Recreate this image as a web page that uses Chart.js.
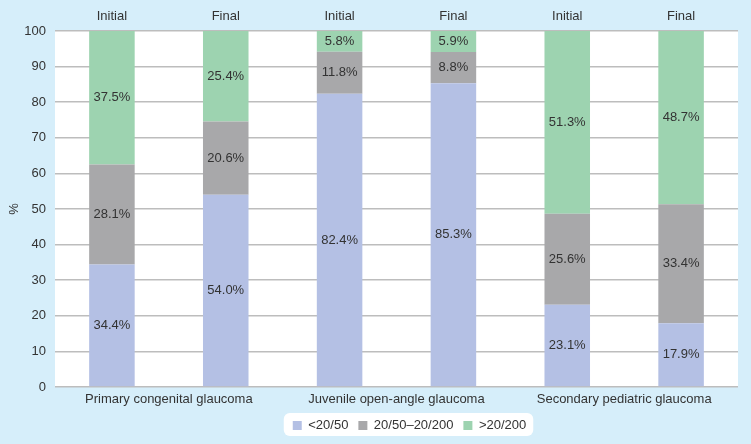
<!DOCTYPE html>
<html>
<head>
<meta charset="utf-8">
<script src="https://cdn.jsdelivr.net/npm/chart.js@4/dist/chart.umd.min.js"></script>
<style>
	html, body { margin: 0; padding: 0; background: #d6eefa; }
	#wrap { width: 751px; height: 444px; }
</style>
</head>
<body>
<div id="wrap"><canvas id="myChart" width="751" height="444"></canvas></div>
<script>
// values (percent of eyes)
const barLabels = ['Initial', 'Final', 'Initial', 'Final', 'Initial', 'Final']
const groupNames = ['Primary congenital glaucoma', 'Juvenile open-angle glaucoma', 'Secondary pediatric glaucoma']
const good = [34.4, 54.0, 82.4, 85.3, 23.1, 17.9]
const middle = [28.1, 20.6, 11.8, 8.8, 25.6, 33.4]
const poor = [37.5, 25.4, 5.8, 5.9, 51.3, 48.7]
const seriesNames = ['<20/50', '20/50\u201320/200', '>20/200']
const yTicks = [0, 10, 20, 30, 40, 50, 60, 70, 80, 90, 100]

const FONT = "'Liberation Sans', Arial, sans-serif"
const TEXT = '#333333'

// light blue page, white plot, white legend box
const backdrop = {
	id: 'backdrop',
	afterUpdate(chart) {
		// legend sits a bit right of the plot centre in the original
		const lg = chart.legend
		lg.left += 13
		lg.right += 13
		lg.legendHitBoxes.forEach(h => { h.left += 13 })
	},
	beforeDraw(chart) {
		const ctx = chart.ctx
		const a = chart.chartArea
		ctx.save()
		ctx.fillStyle = '#d6eefa'
		ctx.fillRect(0, 0, chart.width, chart.height)
		ctx.fillStyle = '#ffffff'
		ctx.fillRect(a.left, a.top, a.right - a.left, a.bottom - a.top)
		const boxes = chart.legend.legendHitBoxes
		if (boxes && boxes.length) {
			const l = Math.min(...boxes.map(b => b.left)) - 9
			const r = Math.max(...boxes.map(b => b.left + b.width)) + 7
			const t = Math.min(...boxes.map(b => b.top)) - 6
			const bt = Math.max(...boxes.map(b => b.top + b.height)) + 4
			ctx.beginPath()
			ctx.roundRect(l, t, r - l, bt - t, 6)
			ctx.fill()
		}
		ctx.restore()
	}
}

// percentage labels in the middle of each segment
const segmentLabels = {
	id: 'segmentLabels',
	afterDatasetsDraw(chart) {
		const ctx = chart.ctx
		ctx.save()
		ctx.font = '13px ' + FONT
		ctx.fillStyle = TEXT
		ctx.textAlign = 'center'
		ctx.textBaseline = 'middle'
		chart.data.datasets.forEach((ds, i) => {
			chart.getDatasetMeta(i).data.forEach((bar, j) => {
				const y = (bar.y + bar.base) / 2
				ctx.fillText(ds.data[j].toFixed(1) + '%', bar.x, y)
			})
		})
		ctx.restore()
	}
}

const ctx = document.getElementById('myChart')
const chart = new Chart(ctx, {
	type: 'bar',
	data: {
		labels: barLabels,
		datasets: [
			{ label: seriesNames[0], data: good, backgroundColor: '#b4c0e4' },
			{ label: seriesNames[1], data: middle, backgroundColor: '#a8a8aa' },
			{ label: seriesNames[2], data: poor, backgroundColor: '#9dd3b0' },
		]
	},
	options: {
		responsive: false,
		animation: false,
		barPercentage: 0.8,
		categoryPercentage: 0.5,
		layout: { padding: { top: 0, right: 13, bottom: 2, left: 0 } },
		plugins: {
			legend: {
				position: 'bottom',
				fullSize: false,
				labels: {
					boxWidth: 9,
					boxHeight: 9,
					padding: 10,
					color: TEXT,
					font: { family: FONT, size: 13 }
				}
			},
			tooltip: { enabled: false }
		},
		scales: {
			x: {
				position: 'top',
				stacked: true,
				grid: { display: false, drawTicks: false },
				border: { display: false },
				ticks: { color: TEXT, padding: 7, font: { family: FONT, size: 13 } },
				afterFit(scale) { scale.height = 31 }
			},
			groups: {
				axis: 'x',
				type: 'category',
				position: 'bottom',
				labels: groupNames,
				offset: true,
				grid: { display: false, drawTicks: false },
				border: { display: false },
				ticks: { color: TEXT, padding: 5, font: { family: FONT, size: 13 } },
				afterFit(scale) { scale.height = 22 }
			},
			y: {
				stacked: true,
				min: 0,
				max: 100,
				afterBuildTicks(scale) { scale.ticks = yTicks.map(v => ({ value: v })) },
				grid: { color: '#bdbdbd', lineWidth: 1.5, drawTicks: false },
				border: { display: false },
				ticks: { color: TEXT, padding: 9, font: { family: FONT, size: 13 } },
				title: { display: true, text: '%', color: TEXT, padding: { top: 7, bottom: 0 }, font: { family: FONT, size: 13 } },
				afterFit(scale) { scale.width = 55 }
			}
		}
	},
	plugins: [backdrop, segmentLabels]
})
</script>
</body>
</html>
